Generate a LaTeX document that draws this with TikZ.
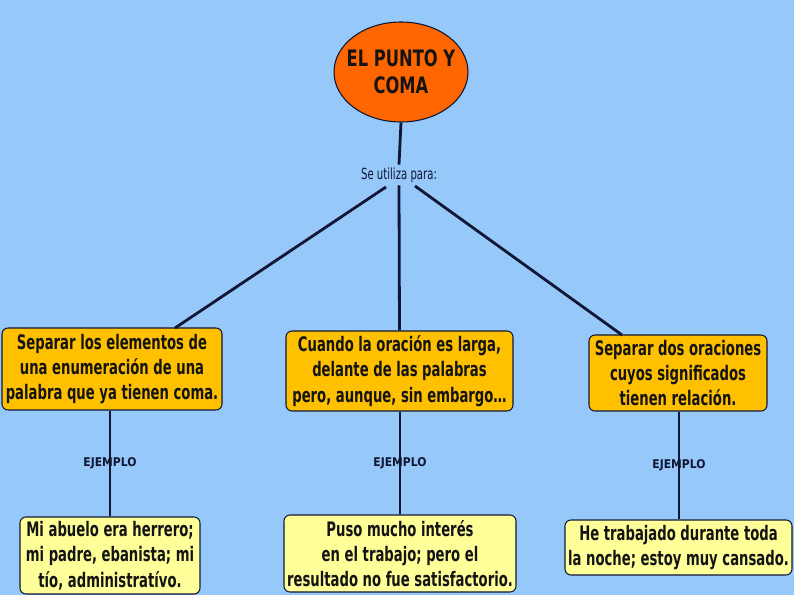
\documentclass[tikz,border=0pt]{standalone}
\usepackage{fontspec}
\setmainfont{DejaVu Sans}
\newfontfamily\boxfont[FakeStretch=0.66]{DejaVu Sans}
\newfontfamily\titlefont[FakeStretch=0.72]{DejaVu Sans}
\newfontfamily\exfont[FakeStretch=0.9]{DejaVu Sans}
\usetikzlibrary{shapes.geometric}
\definecolor{bgc}{RGB}{150,200,250}
\definecolor{orangec}{RGB}{255,102,0}
\definecolor{goldc}{RGB}{255,192,0}
\definecolor{palec}{RGB}{255,255,153}
\definecolor{linec}{RGB}{16,22,52}
\definecolor{txtc}{RGB}{20,20,20}
\tikzset{
  conn/.style={draw=linec, line width=2.1pt},
  goldbox/.style={rectangle, rounded corners=4.5pt, draw=linec, line width=0.8pt, fill=goldc, align=center, inner sep=0pt, text=txtc, font=\boxfont\bfseries\fontsize{15}{19}\selectfont},
  palebox/.style={goldbox, fill=palec},
  exlabel/.style={text=linec, font=\exfont\bfseries\fontsize{9}{10}\selectfont, inner sep=0pt},
}
\begin{document}
\begin{tikzpicture}[x=0.75pt, y=-0.75pt]
\fill[bgc] (0,0) rectangle (794,595);
\useasboundingbox (0,0) rectangle (794,595);

\node[ellipse, draw=linec, line width=0.8pt, fill=orangec, minimum width=100.5pt, minimum height=75pt, inner sep=0pt] (title) at (401,72) {};
\node[align=center, inner sep=0pt, text=txtc, font=\titlefont\bfseries\fontsize{17}{20}\selectfont] (titletext) at (title.center) {EL PUNTO Y\\COMA};

\node[fill=bgc, inner sep=2pt, text=linec, font=\boxfont\fontsize{11.5}{13}\selectfont] (use) at (399,175) {Se utiliza para:};

\node[goldbox, minimum width=165pt, minimum height=61.5pt] (b1) at (112,369) {Separar los elementos de\\una enumeración de una\\palabra que ya tienen coma.};
\node[goldbox, minimum width=170.25pt, minimum height=60pt] (b2) at (399.5,371) {Cuando la oración es larga,\\delante de las palabras\\pero, aunque, sin embargo\dots};
\node[goldbox, minimum width=133.5pt, minimum height=57pt] (b3) at (678,373) {Separar dos oraciones\\cuyos significados\\tienen relación.};

\node[palebox, minimum width=135pt, minimum height=57.75pt] (e1) at (110,555.5) {Mi abuelo era herrero;\\mi padre, ebanista; mi\\tío, administratívo.};
\node[palebox, minimum width=174pt, minimum height=57.75pt] (e2) at (400,553.5) {Puso mucho interés\\en el trabajo; pero el\\resultado no fue satisfactorio.};
\node[palebox, minimum width=170.25pt, minimum height=41.25pt] (e3) at (678.5,547.5) {He trabajado durante toda\\la noche; estoy muy cansado.};

\coordinate (uL) at (386,187);
\coordinate (uR) at (415,186);
\coordinate (b1t) at (175,328);
\coordinate (b3t) at (622,335);

\draw[conn] (title.south) -- (use.north);
\draw[conn] (use.south) -- (b2.north);
\draw[conn] (uL) -- (b1t);
\draw[conn] (uR) -- (b3t);

\draw[conn] (b1.south -| 110,0) -- (e1.north -| 110,0);
\draw[conn] (b2.south -| 400,0) -- (e2.north -| 400,0);
\draw[conn] (b3.south -| 679,0) -- (e3.north -| 679,0);

\node[exlabel] (x1) at (110,463) {EJEMPLO};
\node[exlabel] (x2) at (400,463) {EJEMPLO};
\node[exlabel] (x3) at (679,465) {EJEMPLO};
\end{tikzpicture}
\end{document}
